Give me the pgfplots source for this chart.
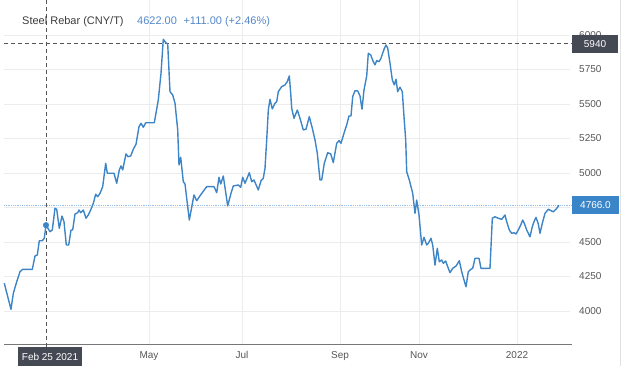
\documentclass[border=0pt]{standalone}
\usepackage{pgfplots}
\pgfplotsset{compat=1.18}
\usepackage{fontspec}
\setmainfont{Liberation Sans}
\definecolor{lineblue}{RGB}{61,133,198}
\definecolor{gridc}{RGB}{236,236,236}
\definecolor{boxdark}{RGB}{68,73,83}
\definecolor{boxblue}{RGB}{58,133,200}
\definecolor{txtgray}{RGB}{85,85,85}
\definecolor{titlegray}{RGB}{60,60,60}
\definecolor{titleblue}{RGB}{85,135,200}
\definecolor{refblue}{RGB}{150,190,232}
\definecolor{bordergray}{RGB}{225,225,225}
\begin{document}
\begin{tikzpicture}[x=1pt,y=1pt]
\useasboundingbox (-4,-21) rectangle (636,345);
\draw[bordergray, line width=0.8pt] (616,-21) -- (616,345);
\begin{axis}[
  scale only axis, width=566pt, height=345pt,
  xmin=4, xmax=570, ymin=3754, ymax=6253,
  clip=false,
  axis line style={draw=none},
  major tick length=0pt,
  xtick={149,242,340,419,517}, xticklabels={May,Jul,Sep,Nov,2022},
  ytick={4000,4250,4500,4750,5000,5250,5500,5750,6000},
  yticklabels={4000,4250,4500,,5000,5250,5500,5750,6000},
  yticklabel pos=right,
  grid=major, grid style={gridc, line width=0.8pt},
  /pgf/number format/assume math mode=true,
  /pgf/number format/1000 sep={},
  ticklabel style={font=\fontsize{10}{12}\selectfont, text=txtgray},
  yticklabel style={anchor=west, inner sep=0pt, xshift=9pt},
  xticklabel style={anchor=north, inner sep=0pt, yshift=-6pt},
]
\draw[txtgray!80, line width=1pt] (axis cs:4,3754) -- (axis cs:572,3754);
\draw[refblue, line width=0.8pt, densely dotted] (axis cs:4,4766) -- (axis cs:572,4766);
\draw[txtgray, line width=0.8pt, dash pattern=on 4pt off 3pt] (axis cs:46,3740) -- (axis cs:46,6253);
\draw[txtgray, line width=0.8pt, dash pattern=on 4pt off 3pt] (axis cs:4,5940) -- (axis cs:572,5940);
\addplot[lineblue, line width=1.4pt, line join=round] coordinates {
(4.3,4201) (7.3,4116) (11,4012) (13.3,4128) (16.7,4212) (20,4285) (22.7,4302) (32.3,4302)
(35,4399) (37.3,4406) (39.3,4509) (42.3,4509) (44.3,4527) (46,4622) (50,4575) (52.3,4587)
(55,4744) (56.7,4737) (59.3,4599) (62,4688) (64,4647) (66.3,4478) (68.7,4478) (71,4587)
(72.7,4587) (75,4703) (77.7,4712) (79,4732) (80.7,4712) (83.3,4732) (86,4672) (88.3,4696)
(90.7,4732) (93.3,4780) (95.7,4846) (97.7,4828) (100,4853) (102.7,4901) (105.7,5070)
(107.3,4998) (114,4998) (116.7,4925) (119.3,5022) (121,5051) (122.7,5022) (126,5138)
(128,5118) (130.7,5123) (133.3,5172) (136,5208) (139,5335) (141,5360) (143.3,5331)
(145.7,5364) (154.3,5364) (158.3,5529) (161,5722) (163.3,5969) (165.7,5944) (167.7,5935)
(170,5589) (172.7,5565) (175,5505) (177.7,5312) (179,5058) (180.7,5114) (183.3,4937)
(185,4920) (189.3,4659) (194,4841) (196.7,4799) (200,4835) (206.7,4901) (214,4901)
(216.7,4857) (219,4969) (220.7,4920) (223.3,4978) (227.7,4761) (231,4853) (233.3,4906)
(238.3,4913) (240.7,4896) (242.7,4969) (245,4925) (249.3,5002) (251.7,4937) (254,4949)
(258.3,4877) (261,4944) (263.3,4962) (265,5034) (266.7,5239) (268.3,5456) (270,5534)
(272.3,5464) (275,5505) (276.7,5517) (278.3,5589) (281.7,5625) (285,5638) (287.3,5662)
(289.3,5703) (290.7,5577) (291.7,5469) (294,5396) (297.3,5456) (300,5396) (303.3,5312)
(306,5317) (309.3,5408) (312.3,5324) (315,5239) (317.3,5143) (320,4949) (321.7,4949)
(324.3,5070) (327.7,5147) (330.7,5138) (333.3,5075) (336.7,5215) (339,5234) (341,5215)
(344,5288) (346.7,5348) (349,5413) (351,5413) (352.7,5553) (355,5596) (357.7,5594)
(360,5558) (362,5462) (364,5601) (366.7,5703) (368.3,5867) (370.7,5855) (373.3,5806)
(375,5783) (376.7,5814) (379,5806) (381,5831) (384,5896) (386,5927) (387.7,5904)
(390,5795) (392.3,5674) (394.3,5638) (396,5679) (397.7,5589) (400,5621) (402.3,5589)
(404,5408) (405.7,5239) (406.7,5009) (409.3,4949) (412.7,4853) (415,4708) (416.7,4804)
(419,4696) (421.7,4478) (424,4534) (426.7,4478) (428.3,4491) (431,4527) (432.7,4478)
(435,4333) (437.3,4454) (439.3,4357) (441.7,4370) (443.3,4346) (445.7,4362) (447.7,4321)
(450,4278) (452.7,4309) (456,4326) (459.3,4364) (461.7,4285) (464,4225) (466,4176)
(468.3,4285) (470.7,4302) (472.7,4309) (475,4382) (479,4382) (481,4309) (490,4309)
(492.3,4672) (495,4683) (498.3,4672) (501.7,4664) (505,4696) (506.7,4647) (509.3,4587)
(511.7,4563) (514,4567) (516,4558) (518.3,4587) (520.7,4623) (522.7,4659) (524.3,4635)
(526.7,4587) (530,4538) (532.3,4611) (534,4647) (536,4679) (538.3,4630) (540,4563)
(542.3,4635) (545,4708) (548.3,4737) (551,4727) (553.3,4719) (556,4737) (559,4766)
};
\addplot[only marks, mark=*, mark size=2.8pt, color=lineblue] coordinates {(46,4622)};
\end{axis}
\fill[boxdark] (568,292) rectangle (614,310);
\node[text=white, font=\fontsize{10}{12}\selectfont] at (591,301) {5940};
\fill[boxblue] (568,130.7) rectangle (615,148.7);
\node[text=white, font=\fontsize{10}{12}\selectfont] at (591.5,139.7) {4766.0};
\fill[boxdark] (14,-21) rectangle (78,-2);
\node[text=white, font=\fontsize{10}{12}\selectfont] at (46,-11.5) {Feb 25 2021};
\node[anchor=west, inner sep=0pt, font=\fontsize{11}{13}\selectfont, text=titlegray] at (18,323) {Steel Rebar (CNY/T)};
\node[anchor=west, inner sep=0pt, font=\fontsize{11}{13}\selectfont, text=titleblue] at (133,323) {4622.00\hspace{0.6em}+111.00 (+2.46\%)};
\end{tikzpicture}
\end{document}
